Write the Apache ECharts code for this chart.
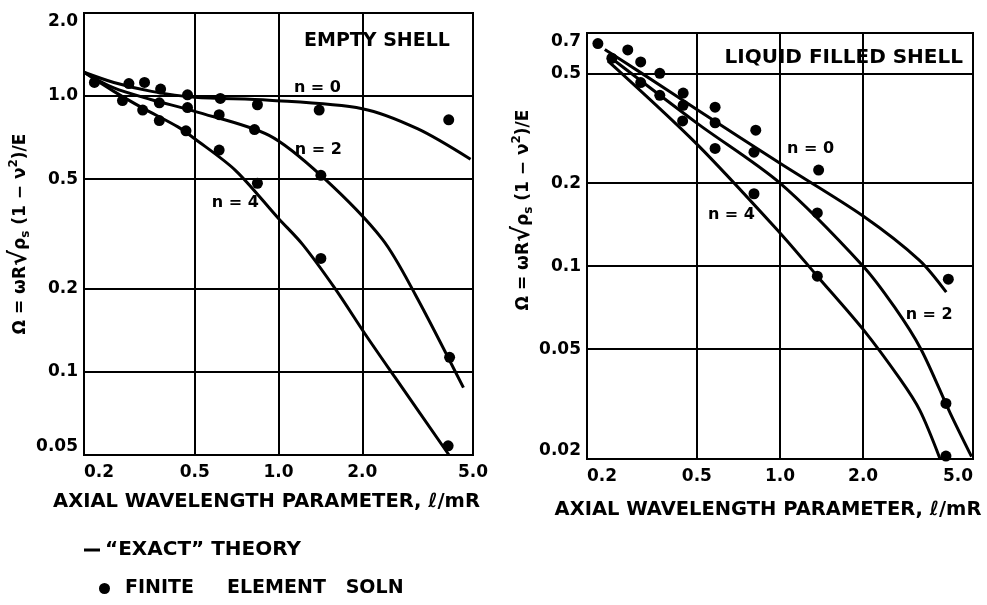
<!DOCTYPE html>
<html><head><meta charset="utf-8">
<script src="https://cdn.jsdelivr.net/npm/echarts@6/dist/echarts.min.js"></script>
<style>html,body{margin:0;padding:0;background:#fff}#c{width:987px;height:605px}</style>
</head><body><div id="c"></div><script>
// ---- axis ticks ----
const xTicks = [0.2, 0.5, 1.0, 2.0, 5.0];
const xTickLabels = ['0.2', '0.5', '1.0', '2.0', '5.0'];
const yTicksEmpty = [0.05, 0.1, 0.2, 0.5, 1.0, 2.0];
const yTickLabelsEmpty = ['0.05', '0.1', '0.2', '0.5', '1.0', '2.0'];
const yTicksLiquid = [0.02, 0.05, 0.1, 0.2, 0.5, 0.7];
const yTickLabelsLiquid = ['0.02', '0.05', '0.1', '0.2', '0.5', '0.7'];

// ---- EMPTY SHELL: "exact" theory curves [l/mR, Omega] ----
const emptyTheoryN0 = [[0.2,1.22],[0.256,1.12],[0.35,1.04],[0.5,0.99],[0.925,0.966],[2.0,0.9],[3.17,0.76],[4.9,0.59]];
const emptyTheoryN2 = [[0.2,1.22],[0.256,1.07],[0.35,0.97],[0.5,0.88],[0.925,0.72],[1.44,0.509],[2.36,0.303],[3.10,0.191],[4.62,0.0877]];
const emptyTheoryN4 = [[0.2,1.22],[0.256,1.04],[0.323,0.908],[0.435,0.773],[0.5,0.70],[0.70,0.538],[1.0,0.36],[1.22,0.29],[1.6,0.2],[2.05,0.137],[2.62,0.0957],[4.1,0.05]];
// ---- EMPTY SHELL: finite element points ----
const emptyFemN0 = [[0.218,1.12],[0.29,1.11],[0.33,1.12],[0.377,1.06],[0.471,1.01],[0.618,0.98],[0.84,0.93],[1.40,0.89],[4.09,0.82]];
const emptyFemN2 = [[0.275,0.963],[0.373,0.945],[0.471,0.908],[0.612,0.856],[0.82,0.756],[1.42,0.516],[4.12,0.113]];
const emptyFemN4 = [[0.325,0.89],[0.373,0.815],[0.465,0.748],[0.612,0.637],[0.84,0.483],[1.42,0.258],[4.07,0.054]];

// ---- LIQUID FILLED SHELL: theory ----
const liquidTheoryN0 = [[0.232,0.61],[0.311,0.505],[0.5,0.37],[1.0,0.236],[2.0,0.152],[3.2,0.105],[4.0,0.0805]];
const liquidTheoryN2 = [[0.238,0.58],[0.5,0.33],[1.0,0.2],[2.0,0.1],[2.6,0.071],[3.24,0.05],[4.13,0.0294],[4.94,0.0204]];
const liquidTheoryN4 = [[0.238,0.555],[0.5,0.277],[1.0,0.132],[1.365,0.092],[2.0,0.059],[2.72,0.039],[3.21,0.030],[3.8,0.020]];
// ---- LIQUID FILLED SHELL: finite element points ----
const liquidFemN0 = [[0.219,0.641],[0.281,0.608],[0.313,0.55],[0.367,0.50],[0.446,0.424],[0.582,0.377],[0.817,0.311],[1.38,0.223],[4.07,0.0897]];
const liquidFemN2 = [[0.246,0.567],[0.367,0.416],[0.446,0.383],[0.582,0.331],[0.805,0.259],[1.365,0.156],[3.99,0.0318]];
const liquidFemN4 = [[0.313,0.463],[0.444,0.336],[0.582,0.267],[0.805,0.183],[1.365,0.092],[3.99,0.0205]];

// ---- curve labels [text, x, y] ----
const emptyLabels = [['n = 0',1.38,1.07],['n = 2',1.39,0.64],['n = 4',0.70,0.41]];
const liquidLabels = [['n = 0',1.29,0.267],['n = 2',3.47,0.0664],['n = 4',0.667,0.154]];

const THEORY = '\u201CEXACT\u201D THEORY';
const FEM = 'FINITE     ELEMENT   SOLN';
const FONT = 'DejaVu Sans';

function labelFor(ticks, labels) {
  return function (v) {
    for (let i = 0; i < ticks.length; i++) {
      if (Math.abs(v - ticks[i]) / ticks[i] < 1e-6) return labels[i];
    }
    return '';
  };
}

const yName = '{t|\u03A9 = \u03C9R}{r|\u221A}{t|\u03C1}{s|s}{t| (1 \u2212 \u03BD}{p|2}{t|)/E}';
const yNameRich = {
  t: {fontFamily: FONT, fontWeight: 'bold', fontSize: 17, color: '#000'},
  r: {fontFamily: FONT, fontWeight: 'bold', fontSize: 24, color: '#000'},
  s: {fontFamily: FONT, fontWeight: 'bold', fontSize: 12, color: '#000', verticalAlign: 'bottom', padding: [8, 0, 0, 0]},
  p: {fontFamily: FONT, fontWeight: 'bold', fontSize: 12, color: '#000', verticalAlign: 'top', padding: [0, 0, 8, 0]}
};

function xAxis(gi, nameGap, alignMax) {
  return {
    type: 'log', gridIndex: gi, min: 0.2, max: 5,
    name: 'AXIAL WAVELENGTH PARAMETER, \u2113/mR', nameLocation: 'middle', nameGap: nameGap,
    nameTextStyle: {fontFamily: FONT, fontWeight: 'bold', fontSize: 19.5, color: '#000', padding: [0, 24, 0, 0]},
    axisLine: {show: true, lineStyle: {color: '#000', width: 2}},
    axisTick: {show: false, customValues: xTicks},
    axisLabel: {customValues: xTicks, formatter: labelFor(xTicks, xTickLabels), margin: 9,
      fontFamily: FONT, fontWeight: 'bold', fontSize: 17, color: '#000',
      alignMinLabel: 'left', alignMaxLabel: alignMax},
    splitLine: {show: true, lineStyle: {color: '#000', width: 2}}
  };
}
function yAxis(gi, mn, mx, ticks, labels, nameGap, namePad) {
  return {
    type: 'log', gridIndex: gi, min: mn, max: mx,
    name: yName, nameLocation: 'middle', nameGap: nameGap,
    nameTextStyle: {rich: yNameRich, padding: namePad},
    axisLine: {show: true, lineStyle: {color: '#000', width: 2}},
    axisTick: {show: false, customValues: ticks},
    axisLabel: {customValues: ticks, formatter: labelFor(ticks, labels), margin: 6,
      fontFamily: FONT, fontWeight: 'bold', fontSize: 17, color: '#000',
      verticalAlignMaxLabel: 'top', verticalAlignMinLabel: 'bottom'},
    splitLine: {show: true, lineStyle: {color: '#000', width: 2}}
  };
}
function theory(data, gi) {
  return {type: 'line', name: THEORY, xAxisIndex: gi, yAxisIndex: gi, data: data,
    showSymbol: false, smooth: 0.3,
    lineStyle: {color: '#000', width: 3}, itemStyle: {color: '#000'}};
}
function fem(data, gi) {
  return {type: 'scatter', name: FEM, xAxisIndex: gi, yAxisIndex: gi, data: data,
    symbol: 'circle', symbolSize: 11, itemStyle: {color: '#000', opacity: 1}};
}
function labels(list, gi) {
  return {type: 'scatter', name: 'labels' + gi, xAxisIndex: gi, yAxisIndex: gi,
    data: list.map(function (l) { return {name: l[0], value: [l[1], l[2]]}; }),
    symbolSize: 1, itemStyle: {opacity: 0}, silent: true,
    label: {show: true, position: 'inside', formatter: '{b}', opacity: 1,
      fontFamily: FONT, fontWeight: 'bold', fontSize: 16, color: '#000'}};
}

const chart = echarts.init(document.getElementById('c'), null, {renderer: 'canvas'});
chart.setOption({
  animation: false,
  backgroundColor: '#fff',
  title: [
    {text: 'EMPTY SHELL', left: 304, top: 32, padding: 0,
      textStyle: {fontFamily: FONT, fontWeight: 'bold', fontSize: 19, color: '#000'}},
    {text: 'LIQUID FILLED SHELL', right: 24, top: 48, padding: 0,
      textStyle: {fontFamily: FONT, fontWeight: 'bold', fontSize: 20, color: '#000'}}
  ],
  legend: [
    {data: [{name: THEORY, icon: 'rect'}], left: 84, top: 540, orient: 'vertical', selectedMode: false,
      itemWidth: 16, itemHeight: 3, itemGap: 6, padding: 0,
      textStyle: {fontFamily: FONT, fontWeight: 'bold', fontSize: 20, color: '#000', padding: [0, 0, 0, 0]}},
    {data: [{name: FEM, icon: 'circle'}], left: 99, top: 579, orient: 'vertical', selectedMode: false,
      itemWidth: 11, itemHeight: 11, itemGap: 10, padding: 0,
      textStyle: {fontFamily: FONT, fontWeight: 'bold', fontSize: 19, color: '#000', padding: [0, 0, 0, 10]}}
  ],
  grid: [
    {left: 84, top: 13, width: 389, height: 442, show: true, borderColor: '#000', borderWidth: 2},
    {left: 587, top: 33, width: 386, height: 426, show: true, borderColor: '#000', borderWidth: 2}
  ],
  xAxis: [xAxis(0, 37, 'center'), xAxis(1, 41, 'right')],
  yAxis: [
    yAxis(0, 0.05, 2.0, yTicksEmpty, yTickLabelsEmpty, 46, [0, 0, 0, 0]),
    yAxis(1, 0.02, 0.7, yTicksLiquid, yTickLabelsLiquid, 48, [0, 0, 0, 72])
  ],
  series: [
    theory(emptyTheoryN0, 0), theory(emptyTheoryN2, 0), theory(emptyTheoryN4, 0),
    fem(emptyFemN0, 0), fem(emptyFemN2, 0), fem(emptyFemN4, 0),
    theory(liquidTheoryN0, 1), theory(liquidTheoryN2, 1), theory(liquidTheoryN4, 1),
    fem(liquidFemN0, 1), fem(liquidFemN2, 1), fem(liquidFemN4, 1),
    labels(emptyLabels, 0), labels(liquidLabels, 1)
  ]
});
</script></body></html>
